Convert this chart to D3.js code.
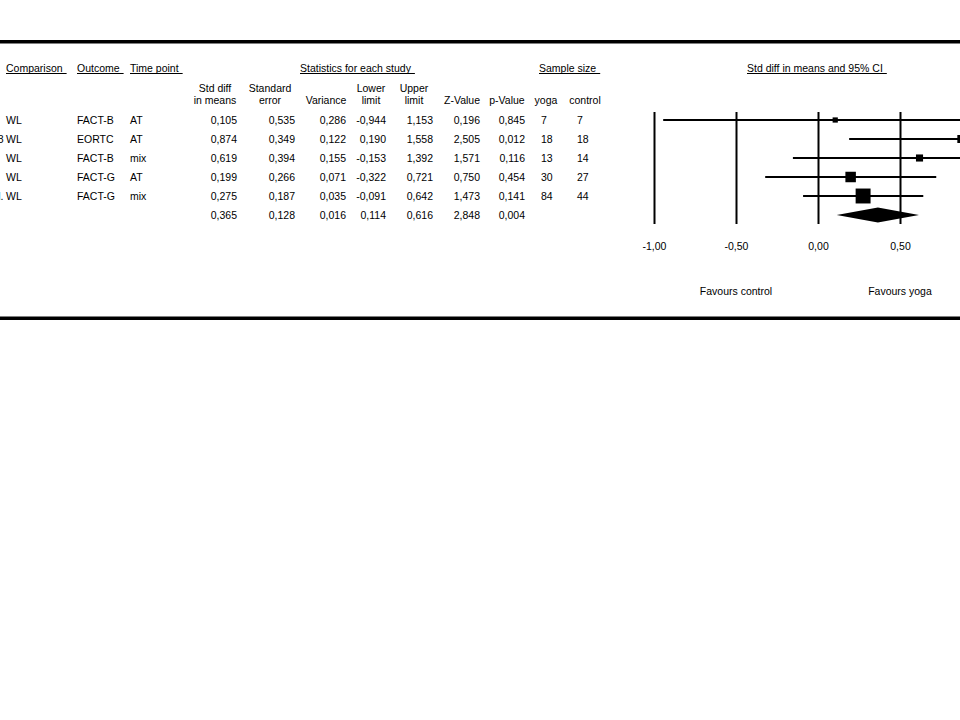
<!DOCTYPE html>
<html>
<head>
<meta charset="utf-8">
<script src="https://cdn.jsdelivr.net/npm/d3@7"></script>
<style>
  body { margin: 0; background: #fff; }
  text { font-family: "Liberation Sans", Arial, sans-serif; font-size: 10.5px; fill: #000; }
</style>
</head>
<body>
<div id="forest"></div>
<script>
// studies (names are cut off at the left edge in the original)
var studyTail  = ["", "2008", "", "", "al."];
var comparison = ["WL", "WL", "WL", "WL", "WL"];
var outcome    = ["FACT-B", "EORTC", "FACT-B", "FACT-G", "FACT-G"];
var timePoint  = ["AT", "AT", "mix", "AT", "mix"];
var stdDiff    = [0.105, 0.874, 0.619, 0.199, 0.275];
var stdErr     = [0.535, 0.349, 0.394, 0.266, 0.187];
var variance   = [0.286, 0.122, 0.155, 0.071, 0.035];
var lower      = [-0.944, 0.190, -0.153, -0.322, -0.091];
var upper      = [1.153, 1.558, 1.392, 0.721, 0.642];
var zValue     = [0.196, 2.505, 1.571, 0.750, 1.473];
var pValue     = [0.845, 0.012, 0.116, 0.454, 0.141];
var nYoga      = [7, 18, 13, 30, 84];
var nControl   = [7, 18, 14, 27, 44];

// pooled (summary) line
var pooled = {stdDiff: 0.365, stdErr: 0.128, variance: 0.016, lower: 0.114, upper: 0.616, z: 2.848, p: 0.004};

var axisTicks = [-1, -0.5, 0, 0.5];

function forestPlot () {
    var width = 960, height = 720;

    var svg = d3.select("#forest").append("svg")
        .attr("width", width)
        .attr("height", height);

    svg.append("rect").attr("width", width).attr("height", height).attr("fill", "#fff");

    var loc = d3.formatLocale({decimal: ",", thousands: ".", grouping: [3], currency: ["", ""], minus: "-"});
    var f3 = loc.format(".3f"),
        f2 = loc.format(".2f");

    var rows = d3.range(stdDiff.length);
    var y = d3.scalePoint().domain(d3.range(rows.length + 1)).range([120, 215]);
    var x = d3.scaleLinear().domain([-1, 0.5]).range([654, 900]);
    var boxSize = d3.scaleSqrt().domain([0, 30]).range([0, 15.3]); // weight = 1/variance

    // thick top / bottom rules
    svg.append("rect").attr("x", 0).attr("y", 40).attr("width", width).attr("height", 3.5).attr("fill", "#000");
    svg.append("rect").attr("x", 0).attr("y", 316.5).attr("width", width).attr("height", 3.5).attr("fill", "#000");

    // underlined group headers
    var heads = [
        {t: "Comparison", x: 6},
        {t: "Outcome", x: 77},
        {t: "Time point", x: 130},
        {t: "Statistics for each study", x: 300},
        {t: "Sample size", x: 539},
        {t: "Std diff in means and 95% CI", x: 747}
    ];
    var hg = svg.append("g").selectAll("g").data(heads).enter().append("g");
    hg.append("text")
        .attr("x", function(d) { return d.x; })
        .attr("y", 72)
        .text(function(d) { return d.t; });
    hg.each(function(d) {
        var w = d3.select(this).select("text").node().getComputedTextLength();
        d3.select(this).append("line")
            .attr("x1", d.x).attr("x2", d.x + w + 4)
            .attr("y1", 73.5).attr("y2", 73.5)
            .attr("stroke", "#000").attr("stroke-width", 1);
    });

    // column sub-headers (centred): [line1, line2, centre x]
    var subHeads = [
        ["Std diff", "in means", 215],
        ["Standard", "error", 270],
        ["", "Variance", 326],
        ["Lower", "limit", 371],
        ["Upper", "limit", 414],
        ["", "Z-Value", 462],
        ["", "p-Value", 507],
        ["", "yoga", 546],
        ["", "control", 585]
    ];
    var sh = svg.append("g").selectAll("g").data(subHeads).enter().append("g")
        .attr("text-anchor", "middle");
    sh.append("text").attr("x", function(d) { return d[2]; }).attr("y", 92)
        .text(function(d) { return d[0]; });
    sh.append("text").attr("x", function(d) { return d[2]; }).attr("y", 104)
        .text(function(d) { return d[1]; });

    // table body, one column at a time
    var cols = [
        {v: studyTail,  x: 3.5, a: "end",   f: String},
        {v: comparison, x: 6,   a: "start", f: String},
        {v: outcome,    x: 77,  a: "start", f: String},
        {v: timePoint,  x: 130, a: "start", f: String},
        {v: stdDiff.concat([pooled.stdDiff]),   x: 237, a: "end", f: f3},
        {v: stdErr.concat([pooled.stdErr]),     x: 295, a: "end", f: f3},
        {v: variance.concat([pooled.variance]), x: 346, a: "end", f: f3},
        {v: lower.concat([pooled.lower]),       x: 386, a: "end", f: f3},
        {v: upper.concat([pooled.upper]),       x: 433, a: "end", f: f3},
        {v: zValue.concat([pooled.z]),          x: 480, a: "end", f: f3},
        {v: pValue.concat([pooled.p]),          x: 525, a: "end", f: f3},
        {v: nYoga,    x: 541, a: "start", f: String},
        {v: nControl, x: 577, a: "start", f: String}
    ];
    cols.forEach(function(c) {
        svg.append("g").selectAll("text")
            .data(c.v)
            .enter().append("text")
            .attr("x", c.x)
            .attr("y", function(d, i) { return y(i) + 4; })
            .attr("text-anchor", c.a)
            .text(function(d) { return c.f(d); });
    });

    // axis: full-height grid lines at each tick, labels below
    var axis = svg.append("g")
        .attr("transform", "translate(0,224)")
        .call(d3.axisBottom(x).tickValues(axisTicks).tickFormat(f2)
            .tickSizeInner(-112).tickSizeOuter(0).tickPadding(18.5));
    axis.select(".domain").remove();
    axis.selectAll("line").attr("stroke", "#000").attr("stroke-width", 2);
    axis.selectAll("text").attr("font-size", null).attr("font-family", null).style("font-size", "10.5px");

    svg.append("text").attr("x", x(-0.5)).attr("y", 295).attr("text-anchor", "middle").text("Favours control");
    svg.append("text").attr("x", x(0.5)).attr("y", 295).attr("text-anchor", "middle").text("Favours yoga");

    // CI lines and weighted boxes
    var plot = svg.append("g");
    plot.selectAll("line.ci")
        .data(rows)
        .enter().append("line")
        .attr("class", "ci")
        .attr("x1", function(i) { return x(lower[i]); })
        .attr("x2", function(i) { return x(upper[i]); })
        .attr("y1", function(i) { return y(i); })
        .attr("y2", function(i) { return y(i); })
        .attr("stroke", "#000")
        .attr("stroke-width", 2);

    plot.selectAll("rect.box")
        .data(rows)
        .enter().append("rect")
        .attr("class", "box")
        .attr("x", function(i) { return x(stdDiff[i]) - boxSize(1 / variance[i]) / 2; })
        .attr("y", function(i) { return y(i) - boxSize(1 / variance[i]) / 2; })
        .attr("width", function(i) { return boxSize(1 / variance[i]); })
        .attr("height", function(i) { return boxSize(1 / variance[i]); })
        .attr("fill", "#000");

    // pooled diamond
    var yp = y(rows.length);
    plot.append("path")
        .attr("d", "M" + x(pooled.lower) + "," + yp +
                   "L" + x(pooled.stdDiff) + "," + (yp - 7.5) +
                   "L" + x(pooled.upper) + "," + yp +
                   "L" + x(pooled.stdDiff) + "," + (yp + 7.5) + "Z")
        .attr("fill", "#000");
}

forestPlot();
</script>
</body>
</html>
